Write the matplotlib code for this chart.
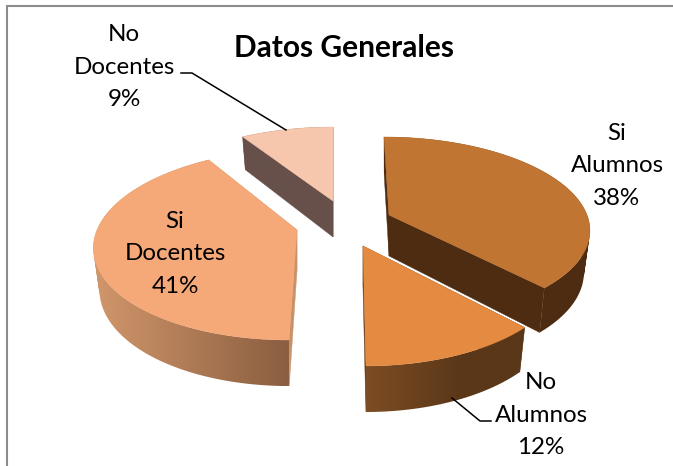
import numpy as np
import matplotlib
matplotlib.use("Agg")
import matplotlib.pyplot as plt
from matplotlib.colors import to_rgb
from matplotlib.path import Path

categories = ["Si\nAlumnos", "No\nAlumnos", "Si\nDocentes", "No\nDocentes"]
values = [38, 12, 41, 9]
title = "Datos Generales"

top_colors = ["#C07533", "#E58B41", "#F5A878", "#F7C7AD"]
wall_colors = ["#4D2C12", "#6A3E1B", "#C89268", "#67504A"]
side_left = ["#4D2C12", "#7D4D24", "#D2976B", "#67504A"]
side_right = ["#4D2C12", "#5A3718", "#8A5E40", "#67504A"]
# per-slice layout: apex x, apex y, x radius, y radius, perspective, shear, depth
layout = [(389, 215, 198, 89.4, 0.146, 5, 41),
          (363, 246, 197, 94.5, 0.212, 3, 41),
          (297, 230, 200, 93.5, 0.150, -8, 41),
          (333, 201, 199, 89.7, 0.212, 0, 36)]
gradient_stop = [1.0, 0.6, 1.0, 1.0]
label_pos = [(617, 166), (541, 415), (175, 254), (124, 67)]
draw_order = [3, 0, 2, 1]
FS = 17.4

fig = plt.figure(figsize=(6.73, 4.66), dpi=100, facecolor="white")
ax = fig.add_axes([0, 0, 1, 1])
ax.axis("off")

total = sum(values)
edges = np.concatenate([[0], np.cumsum(values)]) / total * 2 * np.pi


def disc(theta, g):
    cx, cy, rx, ry, k, shear, depth = g
    u, v = np.sin(theta), -np.cos(theta)
    s = 1 / (1 - k * v)
    d = depth / (1 - 0.11 * v)
    x = cx + rx * u * s + shear * v
    return x, cy + ry * v * s, cx + (x - cx) * 0.97, d


def side_path(x, y, xb, yb):
    verts, codes = [], []
    for a in range(len(x) - 1):
        q = [(x[a], y[a]), (x[a + 1], y[a + 1]),
             (xb[a + 1], yb[a + 1]), (xb[a], yb[a])]
        area = sum(q[n][0] * q[(n + 1) % 4][1] - q[(n + 1) % 4][0] * q[n][1]
                   for n in range(4))
        if area < 0:
            q = q[::-1]
        verts += q + [q[0]]
        codes += [Path.MOVETO, Path.LINETO, Path.LINETO, Path.LINETO, Path.CLOSEPOLY]
    return Path(verts, codes)


z = 1
for i in draw_order:
    g = layout[i]
    th = np.linspace(edges[i], edges[i + 1], 200)
    x, y, xb, d = disc(th, g)
    yb = y + d
    cx, cy, depth = g[0], g[1], g[6]
    for j in (0, -1):
        ax.fill([cx, x[j], xb[j], cx], [cy, y[j], yb[j], cy + depth],
                color=wall_colors[i], lw=0.3, zorder=z)
    z += 1
    # outer side, shaded across its width
    c0, c1 = np.array(to_rgb(side_left[i])), np.array(to_rgb(side_right[i]))
    ramp = np.clip(np.linspace(0, 1, 256) / gradient_stop[i], 0, 1)
    img = (c0 + (c1 - c0) * ramp[:, None])[None, :, :]
    px = np.r_[x, xb]
    py = np.r_[y, yb]
    im = ax.imshow(img, extent=(px.min(), px.max(), py.max(), py.min()),
                   aspect="auto", zorder=z, interpolation="bilinear")
    im.set_clip_path(side_path(x, y, xb, yb), transform=ax.transData)
    z += 1
    ax.fill(np.r_[cx, x], np.r_[cy, y], color=top_colors[i], lw=0.3, zorder=z)
    z += 1

ax.set_xlim(0, 673)
ax.set_ylim(466, 0)

for cat, val, (lx, ly) in zip(categories, values, label_pos):
    ax.text(lx, ly, f"{cat}\n{val}%", ha="center", va="center", fontsize=FS,
            family="Lato", color="black", linespacing=1.68, zorder=50)

ax.text(344.5, 48, title, ha="center", va="center", fontsize=21.5,
        family="Lato", fontweight="bold", color="black", zorder=50)

ax.plot([181, 192, 286], [73, 73, 130], color="black", lw=1.1, zorder=40)
ax.plot([452, 480, 491], [398, 421, 421], color="black", lw=1.1, zorder=40)

ax.plot([7, 7, 673], [466, 5.5, 5.5], color="#8C8C8C", lw=1.5, zorder=40,
        solid_joinstyle="miter")

fig.savefig("out.png", dpi=100, facecolor="white")
